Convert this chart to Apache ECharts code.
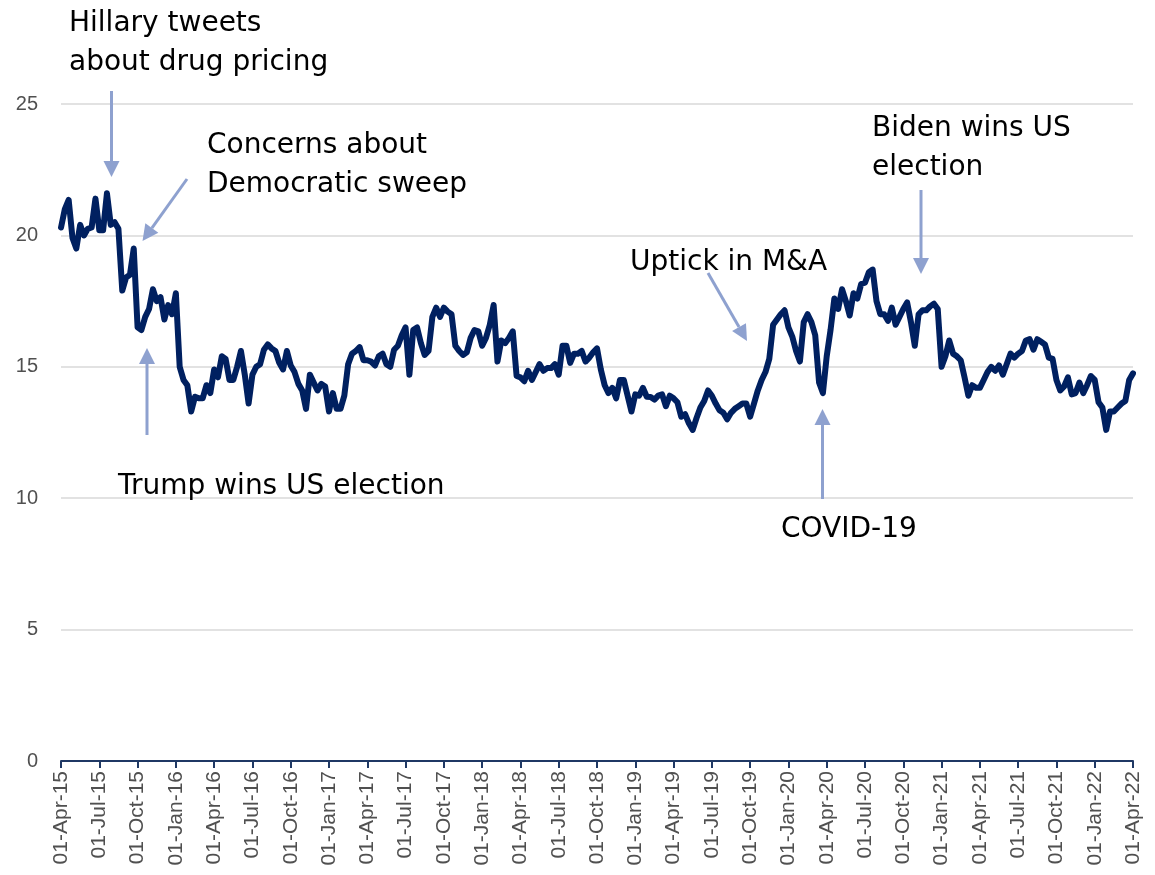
<!DOCTYPE html>
<html>
<head>
<meta charset="utf-8">
<script src="https://cdn.jsdelivr.net/npm/echarts@6/dist/echarts.min.js"></script>
<style>
html,body{margin:0;padding:0;background:#fff;}
#chart{width:1155px;height:875px;}
</style>
</head>
<body>
<div id="chart"></div>
<script>
// Quarterly tick labels (x axis, 01-Apr-15 .. 01-Apr-22)
const tickLabels = ['01-Apr-15','01-Jul-15','01-Oct-15','01-Jan-16','01-Apr-16','01-Jul-16','01-Oct-16','01-Jan-17','01-Apr-17','01-Jul-17','01-Oct-17','01-Jan-18','01-Apr-18','01-Jul-18','01-Oct-18','01-Jan-19','01-Apr-19','01-Jul-19','01-Oct-19','01-Jan-20','01-Apr-20','01-Jul-20','01-Oct-20','01-Jan-21','01-Apr-21','01-Jul-21','01-Oct-21','01-Jan-22','01-Apr-22'];
// samples per quarter
const stepsPerQuarter = 10;
// series values, one every tenth of a quarter
const values = [
20.3,21.0,21.35,19.9,19.5,20.4,20.0,20.25,20.3,21.4,
20.2,20.2,21.6,20.4,20.5,20.25,17.9,18.4,18.5,19.5,
16.5,16.4,16.9,17.2,17.95,17.5,17.65,16.8,17.35,17.0,
17.8,15.0,14.5,14.3,13.3,13.86,13.8,13.8,14.3,14.0,
14.9,14.6,15.4,15.3,14.5,14.5,15.0,15.6,14.7,13.6,
14.7,15.0,15.1,15.65,15.85,15.7,15.6,15.15,14.9,15.6,
15.05,14.8,14.35,14.1,13.4,14.7,14.4,14.1,14.35,14.25,
13.3,14.0,13.4,13.4,13.9,15.1,15.5,15.6,15.75,15.25,
15.25,15.2,15.05,15.4,15.5,15.1,15.0,15.65,15.8,16.2,
16.5,14.7,16.4,16.5,15.9,15.45,15.6,16.9,17.25,16.9,
17.25,17.1,17.0,15.8,15.6,15.45,15.55,16.1,16.4,16.35,
15.8,16.1,16.6,17.35,15.2,16.0,15.9,16.1,16.35,14.65,
14.6,14.45,14.85,14.5,14.8,15.1,14.85,14.95,14.95,15.1,
14.7,15.8,15.8,15.15,15.5,15.5,15.6,15.2,15.35,15.55,
15.7,14.9,14.3,14.0,14.2,13.8,14.5,14.5,13.9,13.3,
13.95,13.9,14.2,13.86,13.85,13.75,13.9,13.95,13.5,13.9,
13.8,13.65,13.1,13.2,12.85,12.6,13.05,13.45,13.7,14.1,
13.9,13.6,13.35,13.25,13.0,13.25,13.4,13.5,13.6,13.6,
13.1,13.6,14.1,14.5,14.8,15.3,16.6,16.8,17.0,17.15,
16.5,16.15,15.6,15.2,16.7,17.0,16.7,16.2,14.4,14.0,
15.4,16.4,17.6,17.2,17.95,17.5,16.95,17.8,17.6,18.15,
18.2,18.6,18.7,17.5,17.0,17.0,16.75,17.25,16.6,16.9,
17.2,17.45,16.7,15.8,17.0,17.15,17.15,17.3,17.4,17.2,
15.0,15.4,16.0,15.5,15.4,15.25,14.6,13.9,14.3,14.2,
14.2,14.5,14.8,15.0,14.85,15.05,14.7,15.1,15.5,15.35,
15.5,15.6,16.0,16.05,15.65,16.05,15.95,15.85,15.35,15.3,
14.5,14.1,14.25,14.6,13.95,14.0,14.4,14.0,14.3,14.65,
14.5,13.65,13.45,12.6,13.3,13.3,13.45,13.6,13.7,14.5,
14.75
];
// y axis range
const yMin = 0, yMax = 25, yStep = 5;

// annotation texts
const annotations = [
  {lines:['Hillary tweets','about drug pricing'], x:69, y:21},
  {lines:['Concerns about','Democratic sweep'], x:207, y:143},
  {lines:['Trump wins US election'], x:118, y:484},
  {lines:['Uptick in M&A'], x:630, y:260},
  {lines:['COVID-19'], x:781, y:527},
  {lines:['Biden wins US','election'], x:872, y:126}
];
const arrows = [
  {from:[111.5,91], to:[111.5,177]},
  {from:[187,179], to:[142.5,241]},
  {from:[147,435], to:[147,348]},
  {from:[708,273], to:[747,341]},
  {from:[822.5,499], to:[822.5,409]},
  {from:[921,190], to:[921,274]}
];

const arrowColor = '#8EA1CF';
const graphics = [];
annotations.forEach(a => {
  a.lines.forEach((t, k) => {
    graphics.push({type:'text', left:a.x, top:a.y - 11 + k*39, z:10,
      style:{text:t, fill:'#000', font:'28px "DejaVu Sans"', textVerticalAlign:'top'}});
  });
});
arrows.forEach(ar => {
  const [x1,y1] = ar.from, [x2,y2] = ar.to;
  const dx = x2-x1, dy = y2-y1, L = Math.hypot(dx,dy);
  const ux = dx/L, uy = dy/L, hl = 16, hw = 8;
  const bx = x2 - ux*hl, by = y2 - uy*hl;
  graphics.push({type:'line', z:10, shape:{x1:x1,y1:y1,x2:bx,y2:by}, style:{stroke:arrowColor, lineWidth:3}});
  graphics.push({type:'polygon', z:10, shape:{points:[[x2,y2],[bx - uy*hw, by + ux*hw],[bx + uy*hw, by - ux*hw]]}, style:{fill:arrowColor}});
});

const chart = echarts.init(document.getElementById('chart'), null, {renderer:'canvas'});
chart.setOption({
  animation:false,
  backgroundColor:'#fff',
  grid:{left:61, right:22, top:104, bottom:114},
  xAxis:{
    type:'value', min:0, max:tickLabels.length-1, interval:1,
    axisLine:{show:true, onZero:false, lineStyle:{color:'#1F3864', width:2}},
    axisTick:{show:true, length:7, lineStyle:{color:'#1F3864', width:2}},
    splitLine:{show:false},
    axisLabel:{rotate:90, margin:10, color:'#505050', fontSize:21, fontFamily:'Liberation Sans',
      formatter:v => tickLabels[Math.round(v)] || ''}
  },
  yAxis:{
    type:'value', min:yMin, max:yMax, interval:yStep,
    axisLine:{show:false}, axisTick:{show:false},
    splitLine:{lineStyle:{color:'#D9D9D9', width:1.5}},
    axisLabel:{margin:23, color:'#505050', fontSize:20, fontFamily:'Liberation Sans'}
  },
  series:[{
    type:'line', showSymbol:false, smooth:false,
    data: values.map((v,i) => [i/stepsPerQuarter, v]),
    lineStyle:{color:'#002060', width:6, join:'round', cap:'round'}
  }],
  graphic: graphics
});
</script>
</body>
</html>
